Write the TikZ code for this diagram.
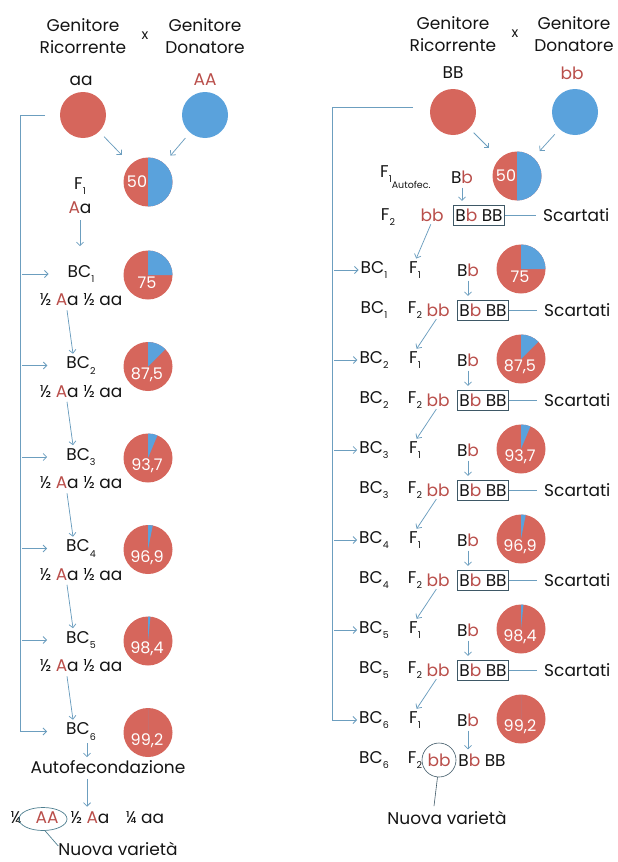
\documentclass[tikz,border=0pt]{standalone}
\usepackage{fontspec}
\setmainfont{Poppins}
\usetikzlibrary{arrows.meta,calc,shapes.geometric}
\definecolor{pred}{HTML}{D6665C}
\definecolor{pblue}{HTML}{5AA2DC}
\definecolor{arrc}{HTML}{6C9EBF}
\definecolor{tred}{HTML}{B94E4A}
\definecolor{tblk}{HTML}{141414}
\definecolor{boxc}{HTML}{3E5866}
\definecolor{ellc}{HTML}{4F7F90}
\newcommand\rd[1]{\textcolor{tred}{#1}}
\newcommand\sbx[1]{\raisebox{-0.55ex}{\fontsize{9.5}{9.5}\selectfont #1}}
\tikzset{
 x=1pt, y=1pt,
 txt/.style={inner sep=0pt, text=tblk, font=\fontsize{17}{22}\selectfont, align=center},
 pcircR/.style={circle, fill=pred, minimum size=46pt, inner sep=0pt},
 pcircB/.style={circle, fill=pblue, minimum size=46pt, inner sep=0pt},
 pienode/.style={circle, fill=pred, minimum size=49pt, inner sep=0pt},
 pielab/.style={inner sep=0pt, text=white, font=\fontsize{16}{16}\selectfont},
 arr/.style={draw=arrc, line width=0.75pt, -{Straight Barb[length=3.5pt,width=7pt]}},
 lin/.style={draw=arrc, line width=0.75pt},
 gbox/.style={txt, draw=boxc, line width=0.6pt, inner xsep=2pt, inner ysep=3.5pt},
}
\newcommand\piechart[5]{%
 \node[pienode] (#1) at (#2) {};
 \fill[pblue] (#1.center) -- ++(90:24.5) arc[start angle=90, end angle={90-#3}, radius=24.5] -- cycle;
 \node[pielab] at ($(#1.center)+#5$) {#4};
}
\begin{document}
\begin{tikzpicture}
\useasboundingbox (0,0) rectangle (618,-862);
% ================= LEFT =================
\node[txt] (gr1) at (83,-36) {Genitore\\Ricorrente};
\node[txt, font=\fontsize{14}{14}\selectfont] (x1) at (145,-36) {x};
\node[txt] (gd1) at (205,-36) {Genitore\\Donatore};
\node[txt] (aa1) at (81,-81) {aa};
\node[txt] (AA1) at (205,-80) {\rd{AA}};
\node[pcircR] (pr1) at (83,-115) {};
\node[pcircB] (pd1) at (205,-115) {};
\piechart{pL0}{148,-182}{180}{50}{(-11,0)}
\draw[arr, shorten <=7pt, shorten >=13pt] (pr1) -- (pL0);
\draw[arr, shorten <=7pt, shorten >=10pt] (pd1) -- (pL0);
\node[txt] (f1L) at (80,-186) {F\sbx{1}};
\node[txt] (AaL) at (80,-208) {\rd{A}a};
\foreach \k/\lab/\ang in {1/75/90,2/{87,5}/45,3/{93,7}/22.7,4/{96,9}/11.2,5/{98,4}/5.8,6/{99,2}/0}{
 \pgfmathsetmacro\yy{-274-91.5*(\k-1)}
 \node[txt] (bcL\k) at (81,\yy) {BC\sbx{\k}};
 \piechart{pL\k}{148,\yy-1}{\ang}{\lab}{(-1,-8)}
}
\foreach \k in {1,...,5}{
 \pgfmathsetmacro\yy{-274-91.5*(\k-1)-26}
 \node[txt] (hL\k) at (81,\yy) {½ \rd{A}a ½ aa};
}
\foreach \k in {1,...,5}{
 \pgfmathtruncatemacro\n{\k+1}
 \draw[arr] ($(hL\k.south)+(-14,-4)$) -- ($(bcL\n.north)+(-8,3)$);
}
\draw[arr, shorten <=6pt, shorten >=19pt] (AaL.south) -- (AaL.south |- bcL1.north);
\coordinate (lbt) at (45,-115);
\coordinate (lbc) at (20,-115);
\foreach \k in {1,...,5}{\draw[arr, shorten <=2pt, shorten >=19pt] (lbc |- bcL\k) -- (bcL\k.west);}
\draw[arr, shorten >=19pt] (lbt) -- (lbc) -- (lbc |- bcL6) -- (bcL6.west);
\node[txt] (auto) at (108,-767) {Autofecondazione};
\coordinate (ax) at (87,0);
\draw[arr, shorten <=3pt, shorten >=3pt] (ax |- bcL6.south) -- (ax |- auto.north);
\node[txt] (q1) at (16,-818) {¼};
\node[txt] (AAb) at (47,-818) {\rd{AA}};
\node[txt] (hb) at (90,-818) {½ \rd{A}a};
\node[txt] (q2) at (145,-818) {¼ aa};
\draw[arr, shorten <=5pt, shorten >=5pt] (ax |- auto.south) -- (ax |- hb.north);
\node[draw=ellc, line width=0.7pt, ellipse, minimum width=48pt, minimum height=23pt, inner sep=0pt] (ell) at (43,-819) {};
\node[txt] (nv1) at (118,-849) {Nuova varietà};
\draw[draw=ellc, line width=0.7pt] (ell.-80) -- ([yshift=3pt]nv1.west);
% ================= RIGHT =================
\node[txt] (gr2) at (453,-34) {Genitore\\Ricorrente};
\node[txt, font=\fontsize{14}{14}\selectfont] (x2) at (515,-34) {x};
\node[txt] (gd2) at (574,-34) {Genitore\\Donatore};
\node[txt] (BB2) at (453,-73) {BB};
\node[txt] (bb2) at (572,-73) {\rd{bb}};
\node[pcircR] (pr2) at (453,-112) {};
\node[pcircB] (pd2) at (575,-112) {};
\piechart{pR0}{517,-176}{180}{50}{(-11,0)}
\draw[arr, shorten <=6pt, shorten >=15pt] (pr2) -- (pR0);
\draw[arr, shorten <=7pt, shorten >=9pt] (pd2) -- (pR0);
\node[txt, anchor=west] (f1top) at (380,-177) {F\raisebox{-0.55ex}{\fontsize{9.5}{9.5}\selectfont 1\raisebox{-1.0ex}{Autofec.}}};
\node[txt] (BbT) at (462,-177) {B\rd{b}};
\node[txt] (f2top) at (388,-217) {F\sbx{2}};
\node[txt] (bbT) at (432,-215) {\rd{bb}};
\node[gbox] (boxT) at (479,-215) {B\rd{b} BB};
\node[txt, anchor=west] (scT) at (543,-215) {Scartati};
\draw[lin, shorten >=7pt] (boxT.east) -- (scT.west);
\draw[arr, shorten <=4pt, shorten >=4pt] (BbT.south) -- (BbT.south |- boxT.north);
\foreach \k/\lab/\ang in {1/75/90,2/{87,5}/45,3/{93,7}/22.7,4/{96,9}/11.2,5/{98,4}/5.8,6/{99,2}/0}{
 \pgfmathsetmacro\ya{-270-90*(\k-1)}
 \node[txt] (bcR\k) at (374,\ya) {BC\sbx{\k}};
 \node[txt] (fR\k) at (415,\ya) {F\sbx{1}};
 \node[txt] (BbR\k) at (468,\ya) {B\rd{b}};
 \piechart{pR\k}{521,\ya+1}{\ang}{\lab}{(-1,-8)}
 \node[txt] (bcS\k) at (374,\ya-40) {BC\sbx{\k}};
 \node[txt] (fS\k) at (415,\ya-40) {F\sbx{2}};
}
\draw[arr, shorten <=3pt, shorten >=3pt] (bbT.south) -- (fR1.north);
\foreach \k in {1,...,5}{
 \pgfmathtruncatemacro\n{\k+1}
 \pgfmathsetmacro\yb{-310-90*(\k-1)}
 \node[txt] (bbS\k) at (438,\yb) {\rd{bb}};
 \node[gbox] (boxS\k) at (483,\yb) {B\rd{b} BB};
 \node[txt, anchor=west] (scS\k) at (544,\yb) {Scartati};
 \draw[lin, shorten >=7pt] (boxS\k.east) -- (scS\k.west);
 \draw[arr, shorten <=4pt, shorten >=4pt] (BbR\k.south) -- (BbR\k.south |- boxS\k.north);
 \draw[arr, shorten <=3pt, shorten >=3pt] (bbS\k.south) -- (fR\n.north);
}
\node[txt] (bbS6) at (439,-760) {\rd{bb}};
\node[circle, draw=boxc, line width=0.6pt, minimum size=34pt, inner sep=0pt] (cir) at (bbS6) {};
\node[txt] (rest6) at (482,-760) {B\rd{b} BB};
\draw[arr, shorten <=4pt, shorten >=4pt] (BbR6.south) -- (BbR6.south |- rest6.north);
\node[txt] (nv2) at (447,-818) {Nuova varietà};
\draw[draw=boxc, line width=0.6pt] (cir.-95) -- ([xshift=-13pt,yshift=5pt]nv2.north);
\coordinate (rbt) at (413,-107);
\coordinate (rbc) at (332,-107);
\foreach \k in {1,...,5}{\draw[arr, shorten <=2pt, shorten >=2pt] (rbc |- bcR\k) -- (bcR\k.west);}
\draw[arr, shorten >=2pt] (rbt) -- (rbc) -- (rbc |- bcR6) -- (bcR6.west);
\end{tikzpicture}
\end{document}
